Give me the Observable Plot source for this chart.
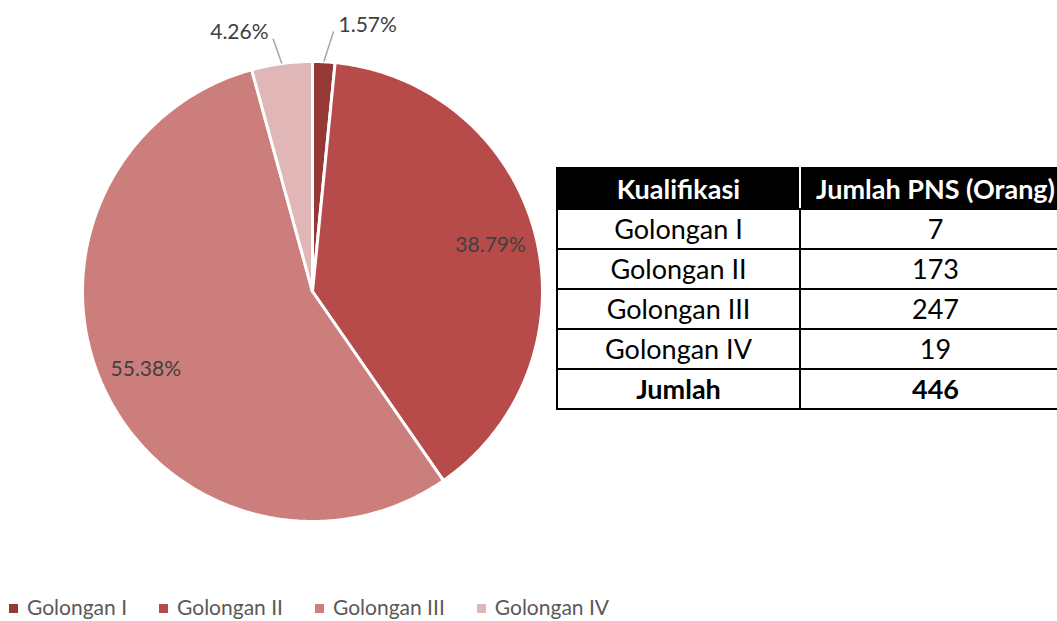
<!DOCTYPE html>
<html>
<head>
<meta charset="utf-8">
<script src="https://cdn.jsdelivr.net/npm/d3@7"></script>
<script src="https://cdn.jsdelivr.net/npm/@observablehq/plot@0.6"></script>
<style>
  html, body { margin: 0; padding: 0; background: #fff; }
  #wrap { position: relative; width: 1057px; height: 621px; overflow: hidden; font-family: Lato, "Open Sans", sans-serif; }
  #chart { position: absolute; left: 0; top: 0; }
  #tbl { position: absolute; left: 556px; top: 167px; width: 510px; table-layout: fixed; border-collapse: collapse; font-size: 27px; color: #000; }
  #tbl td, #tbl th { border: 2px solid #000; text-align: center; padding: 0; height: 38px; line-height: 38px; white-space: nowrap; }
  #tbl th { background: #000; color: #fff; font-weight: 700; height: 39px; border-color: #000 #fff #000 #000; }
  #tbl th:last-child { border-right-color: #000; }
  #tbl tr.total td { font-weight: 700; }
  #legend { position: absolute; left: 9px; top: 594px; display: flex; gap: 0; font-size: 21px; line-height: 26px; color: #595959; white-space: nowrap; }
  #legend .item { display: flex; align-items: center; margin-right: 32px; }
  #legend .sw { width: 9px; height: 9px; margin-right: 9px; margin-top: 2px; }
</style>
</head>
<body>
<div id="wrap">
  <div id="chart"></div>
  <table id="tbl"></table>
  <div id="legend"></div>
</div>
<script>
// ---- data ----
const categories = ["Golongan I", "Golongan II", "Golongan III", "Golongan IV"];
const counts = [7, 173, 247, 19];
const percentLabels = ["1.57%", "38.79%", "55.38%", "4.26%"];
const colors = ["#953836", "#b74b49", "#cb7e7c", "#e0b7b6"];
const tableHeader = ["Kualifikasi", "Jumlah PNS (Orang)"];
const totalLabel = "Jumlah";
const totalValue = 446;

// ---- pie geometry (derived from data) ----
const arcs = d3.pie().sort(null).value(d => d)(counts);
const slicePoints = [];
arcs.forEach((a, i) => {
  const n = Math.max(4, Math.ceil((a.endAngle - a.startAngle) / 0.01));
  slicePoints.push({name: categories[i], x: 0, y: 0});
  for (let k = 0; k <= n; k++) {
    const t = a.startAngle + (a.endAngle - a.startAngle) * k / n;
    slicePoints.push({name: categories[i], x: Math.sin(t), y: Math.cos(t)});
  }
  slicePoints.push({name: categories[i], x: 0, y: 0});
});

const mid = a => (a.startAngle + a.endAngle) / 2;
const deg = Math.PI / 180;
// label placement (style): inside labels at 0.8 radius, small slices outside with leader lines
const outside = {0: {r: 1.18, da: 8.9 * deg, lr: 1.134, lda: 1.8 * deg},
                 3: {r: 1.17, da: -8.1 * deg, lr: 1.112, lda: -1.2 * deg}};
const labels = arcs.map((a, i) => {
  const m = mid(a);
  if (outside[i]) {
    const o = outside[i];
    return {text: percentLabels[i], x: o.r * Math.sin(m + o.da), y: o.r * Math.cos(m + o.da)};
  }
  return {text: percentLabels[i], x: 0.8 * Math.sin(m), y: 0.8 * Math.cos(m)};
});
const leaders = arcs.map((a, i) => ({a, i})).filter(d => outside[d.i]).map(({a, i}) => {
  const m = mid(a), o = outside[i];
  return {x1: Math.sin(m), y1: Math.cos(m), x2: o.lr * Math.sin(m + o.lda), y2: o.lr * Math.cos(m + o.lda)};
});

const plot = Plot.plot({
  width: 1057,
  height: 590,
  margin: 0,
  x: {domain: [-1, 1], range: [82, 542], axis: null},
  y: {domain: [-1, 1], range: [521, 61], axis: null},
  color: {domain: categories, range: colors},
  style: {fontFamily: "Lato, 'Open Sans', sans-serif", background: "transparent"},
  marks: [
    Plot.line(slicePoints, {x: "x", y: "y", z: "name", fill: "name", stroke: "white", strokeWidth: 3, strokeLinejoin: "round"}),
    Plot.link(leaders, {x1: "x1", y1: "y1", x2: "x2", y2: "y2", stroke: "#a6a6a6", strokeWidth: 1.5}),
    Plot.text(labels, {x: "x", y: "y", text: "text", fill: "#404040", fontSize: 21})
  ]
});
document.getElementById("chart").appendChild(plot);

// ---- table ----
const tbl = document.getElementById("tbl");
let html = `<tr><th style="width:241px">${tableHeader[0]}</th><th style="width:269px">${tableHeader[1]}</th></tr>`;
categories.forEach((c, i) => { html += `<tr><td>${c}</td><td>${counts[i]}</td></tr>`; });
html += `<tr class="total"><td>${totalLabel}</td><td>${totalValue}</td></tr>`;
tbl.innerHTML = html;

// ---- legend ----
const legend = document.getElementById("legend");
legend.innerHTML = categories.map((c, i) =>
  `<div class="item"><span class="sw" style="background:${colors[i]}"></span><span>${c}</span></div>`).join("");
</script>
</body>
</html>
